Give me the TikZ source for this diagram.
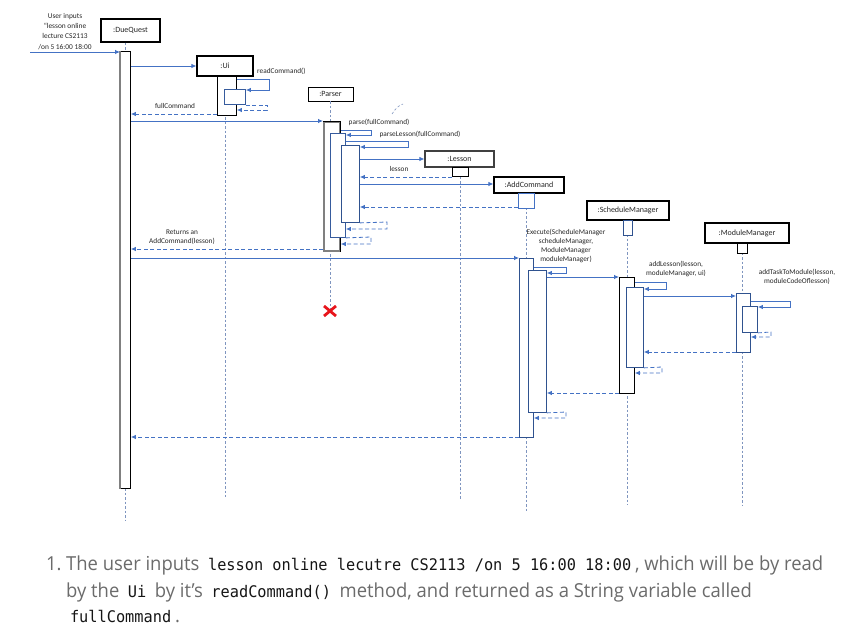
\documentclass[tikz,border=0pt]{standalone}
\usepackage{graphicx}
\usepackage{fontspec}
\setmainfont{Open Sans}
\newfontfamily\diagfont{Carlito}
\newfontfamily\codefont{DejaVu Sans Mono}
\usetikzlibrary{arrows.meta,calc}
\definecolor{arrc}{HTML}{4472C4}
\definecolor{actc}{HTML}{2F528F}
\definecolor{lifec}{HTML}{7F95BF}
\definecolor{txtc}{HTML}{262626}
\definecolor{bodyc}{HTML}{6B6B6B}
\definecolor{codec}{HTML}{151515}
\definecolor{grayedge}{HTML}{808080}
\definecolor{xred}{HTML}{E8141B}
\newcommand\cd[1]{\hspace{4pt}{\codefont\fontsize{16}{19}\selectfont\color{codec}#1}\hspace{4pt}}
\newcommand\bodyline[1]{\scalebox{0.955}[1]{#1}}
\tikzset{
  obj/.style={draw=black, line width=1.2pt, fill=white, inner sep=0pt, text=txtc,
    font=\diagfont\fontsize{8}{9}\selectfont},
  act/.style={draw=actc, line width=0.9pt, fill=white, inner sep=0pt, anchor=north west},
  actk/.style={act, draw=black},
  msg/.style={draw=arrc, line width=0.8pt, -{Latex[length=5pt,width=4.5pt]}},
  ret/.style={msg, dash pattern=on 4pt off 2.5pt},
  life/.style={draw=lifec, line width=0.6pt, dash pattern=on 2.5pt off 2pt},
  lbl/.style={font=\diagfont\fontsize{7.3}{9}\selectfont, text=txtc, inner sep=0pt},
  body/.style={font=\fontsize{19.3}{23}\selectfont, text=bodyc, inner sep=0pt, anchor=base west}
}
\begin{document}
\begin{tikzpicture}[x=1pt,y=-1pt]
\useasboundingbox (0,0) rectangle (865,628);
% header boxes
\node[obj, minimum width=59pt, minimum height=23pt] (dq) at (130.5,30.5) {:DueQuest};
\node[obj, minimum width=56pt, minimum height=20pt] (ui) at (225,66) {:Ui};
\node[obj, minimum width=45pt, minimum height=14pt, line width=0.9pt] (parser) at (330.5,94) {:Parser};
\node[obj, minimum width=69pt, minimum height=16pt, draw=black!75] (lesson) at (459.5,159) {:Lesson};
\node[obj, minimum width=70pt, minimum height=16pt] (addc) at (529,185) {:AddCommand};
\node[obj, minimum width=82pt, minimum height=19pt] (sm) at (628,210.5) {:ScheduleManager};
\node[obj, minimum width=84pt, minimum height=20pt] (mm) at (747,233) {:ModuleManager};
% lifeline ends
\coordinate (dqEnd) at (125,520);
\coordinate (uiEnd) at (225,497);
\coordinate (pEnd) at (330,311);
\coordinate (lsEnd) at (460,500);
\coordinate (acEnd) at (526,511);
\coordinate (smEnd) at (627,505);
\coordinate (mmEnd) at (742,505);
\draw[life] (dq.south -| dqEnd) -- (dqEnd);
\draw[life] (ui.south -| uiEnd) -- (uiEnd);
\draw[life] (parser.south -| pEnd) -- (pEnd);
\draw[life] (lesson.south -| lsEnd) -- (lsEnd);
\draw[life] (addc.south -| acEnd) -- (acEnd);
\draw[life] (sm.south -| smEnd) -- (smEnd);
\draw[life] (mm.south -| mmEnd) -- (mmEnd);
\draw[life] (392,114) .. controls (396,108) and (398,106) .. (403,104);
% activations
\node[actk, minimum width=10pt, minimum height=437pt] (dqA) at (120,51) {};
\draw[grayedge, line width=2.4pt] (dqA.north west) -- (dqA.south west);
\node[actk, minimum width=19pt, minimum height=39pt] (uiA) at (217,76) {};
\node[act, draw=arrc!80!black, minimum width=21pt, minimum height=15pt] (uiB) at (224,89) {};
\node[act, draw=grayedge, line width=1.8pt, minimum width=16pt, minimum height=129pt] (pA) at (323,121) {};
\draw[black, line width=0.9pt] (pA.north west) -- (pA.north east) -- (pA.south east);
\node[act, draw=arrc!80!black, minimum width=15pt, minimum height=104pt] (pB) at (330,133) {};
\node[act, minimum width=18pt, minimum height=77pt] (pC) at (341,145) {};
\node[actk, minimum width=16pt, minimum height=9pt] (lsA) at (452,167) {};
\node[act, draw=arrc, minimum width=16pt, minimum height=15pt] (acS) at (518,193) {};
\node[act, minimum width=9pt, minimum height=15pt] (smS) at (623,220) {};
\node[actk, minimum width=10pt, minimum height=10pt] (mmS) at (737,243) {};
\node[act, minimum width=14pt, minimum height=179pt] (acA) at (519,258) {};
\node[act, minimum width=18pt, minimum height=142pt] (acB) at (528,270) {};
\node[actk, minimum width=15pt, minimum height=116pt] (smA) at (619,277) {};
\node[act, minimum width=17pt, minimum height=80pt] (smB) at (626,287) {};
\node[act, minimum width=14pt, minimum height=59pt] (mmA) at (736,293) {};
\node[act, minimum width=15pt, minimum height=26pt] (mmB) at (742,306) {};
% destruction
\draw[xred, line width=2.8pt] ($(pEnd)+(-6,-5)$) -- ($(pEnd)+(6,5)$) ($(pEnd)+(-6,5)$) -- ($(pEnd)+(6,-5)$);
% messages
\coordinate (user) at (30,52);
\draw[msg] (user) -- (dqA.west |- user);
\draw[msg] (dqA.east |- 0,66) -- (ui.west |- 0,66);
\draw[msg] (uiA.east |- 0,79) -- (269,79) -- (269,90) -- (uiB.east |- 0,90);
\draw[ret] (uiB.east |- 0,105) -- (267,105) -- (267,110) -- (uiA.east |- 0,110);
\draw[ret] (uiA.west |- 0,114) -- (dqA.east |- 0,114);
\draw[msg] (dqA.east |- 0,121) -- (pA.west |- 0,121);
\draw[msg] (pA.east |- 0,130) -- (371,130) -- (371,135) -- (pB.east |- 0,135);
\draw[msg] (pB.east |- 0,141) -- (408,141) -- (408,147) -- (pC.east |- 0,147);
\draw[msg] (pC.east |- 0,159) -- (lesson.west |- 0,159);
\draw[ret] (lsA.west |- 0,177) -- (pC.east |- 0,177);
\draw[msg] (pC.east |- 0,184) -- (addc.west |- 0,184);
\draw[ret] (acS.west |- 0,207) -- (pC.east |- 0,207);
\draw[ret] (pC.south east) -- (387,222) -- (387,229) -- (pB.east |- 0,229);
\draw[ret] (pB.south east) -- (371,237) -- (371,244) -- (pA.east |- 0,244);
\draw[ret] (pA.west |- 0,249) -- (dqA.east |- 0,249);
\draw[msg] (dqA.east |- 0,258) -- (acA.west |- 0,258);
\draw[msg] (acA.east |- 0,267) -- (566,267) -- (566,273) -- (acB.east |- 0,273);
\draw[msg] (acB.east |- 0,277) -- (smA.west |- 0,277);
\draw[msg] (smA.east |- 0,282) -- (666,282) -- (666,289) -- (smB.east |- 0,289);
\draw[msg] (smB.east |- 0,296) -- (mmA.west |- 0,296);
\draw[msg] (mmA.east |- 0,301) -- (790,301) -- (790,307) -- (mmB.east |- 0,307);
\draw[ret] (mmB.south east) -- (771,332) -- (771,337) -- (mmA.east |- 0,337);
\draw[ret] (mmA.west |- 0,352) -- (smB.east |- 0,352);
\draw[ret] (smB.south east) -- (662,367) -- (662,373) -- (smA.east |- 0,373);
\draw[ret] (smA.west |- 0,393) -- (acB.east |- 0,393);
\draw[ret] (acB.south east) -- (566,412) -- (566,418) -- (acA.east |- 0,418);
\draw[ret] (acA.west |- 0,437) -- (dqA.east |- 0,437);
% labels
\node[lbl, align=center, font=\diagfont\fontsize{7.4}{10.2}\selectfont] (userlbl) at (65,31.5) {User inputs\\“lesson online\\lecture CS2113\\/on 5 16:00 18:00};
\node[lbl, anchor=west] (l1) at (257,71) {readCommand()};
\node[lbl] (l2) at (175,106) {fullCommand};
\node[lbl] (l3) at (379,122) {parse(fullCommand)};
\node[lbl] (l4) at (420,134) {parseLesson(fullCommand)};
\node[lbl] (l5) at (399,169) {lesson};
\node[lbl, align=center] (l6) at (182,237.5) {Returns an\\AddCommand(lesson)};
\node[lbl, align=center] (l7) at (566,245.5) {Execute(ScheduleManager\\scheduleManager,\\ModuleManager\\moduleManager)};
\node[lbl, align=center] (l8) at (676,268.5) {addLesson(lesson,\\moduleManager, ui)};
\node[lbl, align=center] (l9) at (797,276.5) {addTaskToModule(lesson,\\moduleCodeOflesson)};
% body text
\node[body] (num) at (46,570) {\bodyline{1.}};
\node[body] (t1) at (66,570) {\bodyline{The user inputs \cd{lesson online lecutre CS2113 /on 5 16:00 18:00}, which will be by read}};
\node[body] (t2) at (66,597) {\bodyline{by the \cd{Ui} by it’s \cd{readCommand()} method, and returned as a String variable called}};
\node[body] (t3) at (66,622) {\bodyline{\cd{fullCommand}.}};
\end{tikzpicture}
\end{document}
